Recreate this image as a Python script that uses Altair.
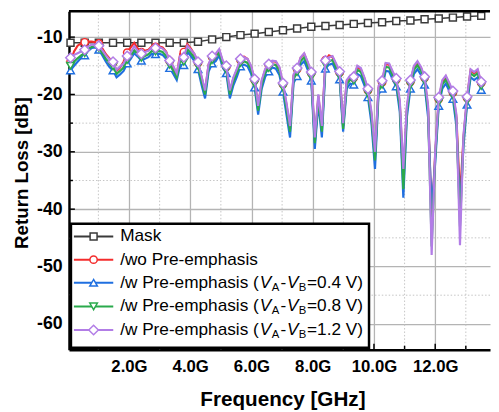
import altair as alt
import pandas as pd

# ---------------- data ----------------
FREQ_GHZ = [
    0.090, 0.206, 0.321, 0.437, 0.553, 0.668, 0.784, 0.899, 1.015, 1.131,
    1.246, 1.362, 1.478, 1.593, 1.709, 1.824, 1.940, 2.056, 2.171, 2.287,
    2.403, 2.518, 2.634, 2.749, 2.865, 2.981, 3.096, 3.212, 3.328, 3.443,
    3.559, 3.674, 3.790, 3.906, 4.021, 4.137, 4.253, 4.368, 4.484, 4.599,
    4.715, 4.831, 4.946, 5.062, 5.178, 5.293, 5.409, 5.524, 5.640, 5.756,
    5.871, 5.987, 6.103, 6.218, 6.334, 6.449, 6.565, 6.681, 6.796, 6.912,
    7.028, 7.143, 7.259, 7.374, 7.490, 7.606, 7.721, 7.837, 7.953, 8.068,
    8.184, 8.299, 8.415, 8.531, 8.646, 8.762, 8.878, 8.993, 9.109, 9.224,
    9.340, 9.456, 9.571, 9.687, 9.803, 9.918, 10.034, 10.149, 10.265, 10.381,
    10.496, 10.612, 10.728, 10.843, 10.959, 11.074, 11.190, 11.306, 11.421, 11.537,
    11.653, 11.768, 11.884, 11.999, 12.115, 12.231, 12.346, 12.462, 12.578, 12.693,
    12.809, 12.924, 13.040, 13.156, 13.271, 13.387, 13.503,
]

MASK_DB = [
    -11.0, -11.0, -11.0, -11.0, -11.0, -11.0, -11.0, -11.0, -11.0, -10.8,
    -10.4, -10.0, -9.65, -9.4, -9.1, -8.8, -8.5, -8.2, -8.05, -7.9,
    -7.7, -7.55, -7.4, -7.2, -7.1, -6.9, -6.75, -6.6, -6.4, -6.3,
]

WO_PRE = [
    -14.3, -12.5, -11.5, -11.1, -10.9, -10.8, -10.8, -10.9, -11.1, -12.0,
    -13.0, -13.7, -14.5, -15.9, -15.3, -14.3, -12.7, -11.8, -11.0, -12.0,
    -12.6, -12.4, -12.2, -11.6, -11.7, -11.6, -11.8, -12.5, -14.2, -15.2,
    -16.5, -12.9, -12.6, -11.2, -12.0, -13.0, -14.5, -17.0, -19.5, -14.8,
    -13.5, -13.1, -12.3, -14.3, -15.2, -19.5, -17.2, -15.7, -14.0, -13.4,
    -13.8, -15.2, -17.5, -22.2, -17.7, -15.7, -14.9, -14.2, -14.3, -15.4,
    -18.2, -21.8, -26.0, -16.7, -15.6, -13.6, -12.9, -14.5, -16.3, -28.0,
    -20.3, -26.0, -14.0, -13.2, -13.5, -14.8, -16.2, -25.5, -17.7, -16.9,
    -17.1, -15.2, -15.6, -17.2, -19.3, -23.5, -30.5, -18.8, -17.9, -14.7,
    -14.8, -16.2, -17.4, -21.5, -34.0, -22.5, -17.8, -15.2, -14.4, -15.4,
    -17.1, -22.5, -42.0, -30.5, -20.8, -17.8, -16.9, -18.2, -19.7, -24.0,
    -38.0, -27.5, -20.6, -15.8, -16.3, -15.8, -18.0,
]

PRE_04V = [
    -15.8, -15.0, -14.3, -13.6, -13.2, -12.4, -11.9, -11.8, -12.2, -13.2,
    -14.3, -15.2, -15.8, -17.0, -16.5, -15.9, -14.6, -13.8, -12.8, -13.4,
    -14.1, -13.8, -13.5, -12.9, -13.0, -12.9, -13.1, -13.8, -15.4, -16.4,
    -17.5, -14.8, -14.9, -12.6, -13.3, -14.2, -15.6, -18.3, -20.7, -16.0,
    -14.6, -14.2, -13.2, -15.3, -16.3, -20.7, -18.4, -16.9, -15.1, -14.8,
    -15.1, -16.4, -18.8, -23.5, -19.0, -16.9, -16.0, -15.3, -15.5, -16.6,
    -19.5, -23.5, -27.5, -18.0, -16.8, -14.8, -14.2, -15.7, -17.6, -29.5,
    -21.5, -27.5, -15.5, -14.8, -14.6, -15.9, -17.4, -26.5, -19.0, -18.1,
    -18.3, -16.4, -16.8, -18.4, -20.5, -25.0, -33.0, -20.0, -19.0, -15.9,
    -16.0, -17.4, -18.6, -23.0, -38.0, -24.0, -19.0, -16.4, -15.6, -16.6,
    -18.3, -24.0, -40.0, -32.0, -22.0, -19.0, -18.1, -19.4, -20.8, -25.5,
    -40.0, -29.0, -21.8, -17.0, -17.5, -17.0, -19.2,
]

PRE_08V = [
    -15.0, -14.3, -13.7, -13.2, -12.8, -12.1, -11.7, -11.6, -11.9, -12.8,
    -13.8, -14.6, -15.1, -16.4, -15.9, -15.3, -14.0, -13.3, -12.3, -13.0,
    -13.6, -13.3, -13.0, -12.4, -12.5, -12.4, -12.6, -13.3, -14.8, -15.8,
    -17.0, -14.1, -14.3, -12.1, -12.8, -13.6, -15.0, -17.6, -20.0, -15.4,
    -14.0, -13.6, -12.7, -14.7, -15.7, -20.0, -17.7, -16.2, -14.5, -14.2,
    -14.5, -15.7, -18.1, -22.8, -18.3, -16.2, -15.4, -14.7, -14.9, -15.9,
    -18.8, -22.5, -26.5, -17.3, -16.1, -14.2, -13.5, -15.0, -16.9, -28.5,
    -20.8, -26.5, -14.8, -14.2, -14.0, -15.3, -16.7, -26.0, -18.3, -17.4,
    -17.6, -15.7, -16.1, -17.7, -19.8, -24.0, -31.5, -19.3, -18.3, -15.2,
    -15.3, -16.7, -17.9, -22.0, -36.5, -23.0, -18.3, -15.7, -14.9, -15.9,
    -17.6, -23.0, -46.5, -31.0, -21.3, -18.3, -17.4, -18.7, -20.1, -24.5,
    -43.0, -28.0, -21.1, -16.3, -16.8, -16.3, -18.5,
]

PRE_12V = [
    -13.6, -13.1, -12.8, -12.5, -12.2, -11.6, -11.3, -11.3, -11.5, -12.3,
    -13.2, -13.9, -14.3, -15.7, -15.1, -14.6, -13.3, -12.7, -11.6, -12.4,
    -12.9, -12.6, -12.4, -11.8, -11.9, -11.7, -12.0, -12.6, -14.1, -15.0,
    -16.3, -13.3, -13.5, -11.5, -12.2, -12.9, -14.3, -16.8, -19.3, -14.7,
    -13.3, -12.9, -12.1, -14.1, -15.0, -19.3, -17.0, -15.5, -13.8, -13.5,
    -13.8, -15.0, -17.3, -22.0, -17.5, -15.5, -14.7, -14.1, -14.2, -15.2,
    -18.0, -21.5, -25.5, -16.5, -15.4, -13.5, -12.8, -14.3, -16.1, -27.5,
    -20.0, -25.5, -14.1, -13.5, -13.3, -14.6, -16.0, -25.0, -17.5, -16.7,
    -16.9, -15.0, -15.4, -17.0, -19.0, -23.0, -30.0, -18.5, -17.6, -14.5,
    -14.6, -16.0, -17.2, -21.0, -33.0, -22.0, -17.5, -15.0, -14.2, -15.2,
    -16.9, -22.0, -48.0, -30.0, -20.5, -17.5, -16.7, -18.0, -19.4, -23.5,
    -46.3, -27.0, -20.4, -15.6, -16.1, -15.6, -17.8,
]

X_TICKS = [2, 4, 6, 8, 10, 12]
X_MINOR = [1, 3, 5, 7, 9, 11, 13]
Y_TICKS = [-10, -20, -30, -40, -50, -60]
Y_MINOR = [-15, -25, -35, -45, -55]
MARK_EVERY = 4

SERIES = [
    ("/wo Pre-emphasis", WO_PRE, "#f42c2c", "circle", 55),
    ("/w 0.4 V", PRE_04V, "#1f6fe0", "triangle-up", 60),
    ("/w 0.8 V", PRE_08V, "#2aaa4c", "triangle-down", 60),
    ("/w 1.2 V", PRE_12V, "#b27de6", "diamond", 95),
]
MASK_COLOR = "#3a3a3a"

# ---------------- layout ----------------
W, H = 428, 344
FONT = "Liberation Sans"
x_scale = alt.Scale(domain=[0.04, 13.79], nice=False, zero=False)
y_scale = alt.Scale(domain=[-64.5, -5.5], nice=False, zero=False)
ONE = pd.DataFrame({"k": [0]})

mask_freq = FREQ_GHZ[::MARK_EVERY]
n_mask = min(len(mask_freq), len(MASK_DB))
mask_df = pd.DataFrame({"f": mask_freq[:n_mask], "v": MASK_DB[:n_mask]})

x_axis = alt.Axis(
    values=X_TICKS, grid=True, gridColor="#b4b4b4", gridWidth=1.3,
    domain=True, domainColor="black", domainWidth=2.5, ticks=False,
    labelExpr="format(datum.value, '.1f') + 'G'", labelFont=FONT,
    labelFontSize=17, labelFontWeight="bold", labelColor="black",
    labelPadding=9, labelFlush=False,
    title="Frequency [GHz]", titleFont=FONT, titleFontSize=21,
    titleFontWeight="bold", titleColor="black", titleX=217, titleY=51,
    titleAlign="center", titleBaseline="middle",
)
y_axis = alt.Axis(
    values=Y_TICKS, grid=True, gridColor="#b4b4b4", gridWidth=1.3,
    domain=True, domainColor="black", domainWidth=2.5, ticks=False,
    labelExpr="'' + datum.value", labelFont=FONT, labelFontSize=18,
    labelFontWeight="bold", labelColor="black", labelPadding=7,
    title="Return Loss [dB]", titleFont=FONT, titleFontSize=19,
    titleFontWeight="bold", titleColor="black", titleX=-48, titleY=164,
    titleAlign="center", titleBaseline="middle",
)

layers = []

# minor dotted grid
layers.append(
    alt.Chart(pd.DataFrame({"f": X_MINOR})).mark_rule(
        color="#c4c4c4", strokeWidth=1, strokeDash=[1.5, 2]
    ).encode(x=alt.X("f:Q", scale=x_scale, axis=x_axis))
)
layers.append(
    alt.Chart(pd.DataFrame({"v": Y_MINOR})).mark_rule(
        color="#c4c4c4", strokeWidth=1, strokeDash=[1.5, 2]
    ).encode(y=alt.Y("v:Q", scale=y_scale, axis=y_axis))
)

# inward ticks
layers.append(
    alt.Chart(pd.DataFrame({"f": X_TICKS})).mark_rule(color="black", strokeWidth=1.5)
    .encode(x=alt.X("f:Q", scale=x_scale), y=alt.value(H), y2=alt.value(H - 6))
)
layers.append(
    alt.Chart(pd.DataFrame({"f": X_MINOR})).mark_rule(color="black", strokeWidth=1.5)
    .encode(x=alt.X("f:Q", scale=x_scale), y=alt.value(H), y2=alt.value(H - 4))
)
layers.append(
    alt.Chart(pd.DataFrame({"v": Y_TICKS})).mark_rule(color="black", strokeWidth=1.5)
    .encode(y=alt.Y("v:Q", scale=y_scale), x=alt.value(0), x2=alt.value(6))
)
layers.append(
    alt.Chart(pd.DataFrame({"v": Y_MINOR})).mark_rule(color="black", strokeWidth=1.5)
    .encode(y=alt.Y("v:Q", scale=y_scale), x=alt.value(0), x2=alt.value(4))
)

# mask
layers.append(
    alt.Chart(mask_df).mark_line(color=MASK_COLOR, strokeWidth=1.5)
    .encode(x=alt.X("f:Q", scale=x_scale), y=alt.Y("v:Q", scale=y_scale))
)
layers.append(
    alt.Chart(mask_df).mark_point(
        shape="square", size=50, filled=True, fill="white",
        stroke=MASK_COLOR, strokeWidth=1.5, opacity=1
    ).encode(x=alt.X("f:Q", scale=x_scale), y=alt.Y("v:Q", scale=y_scale))
)

# measured curves
for name, vals, col, shp, sz in SERIES:
    n = min(len(FREQ_GHZ), len(vals))
    df = pd.DataFrame({"f": FREQ_GHZ[:n], "v": vals[:n]})
    mk = df.iloc[::MARK_EVERY]
    layers.append(
        alt.Chart(df).mark_line(color=col, strokeWidth=2.2)
        .encode(x=alt.X("f:Q", scale=x_scale), y=alt.Y("v:Q", scale=y_scale))
    )
    layers.append(
        alt.Chart(mk).mark_point(
            shape=shp, size=sz, filled=True, fill="white",
            stroke=col, strokeWidth=1.5, opacity=1
        ).encode(x=alt.X("f:Q", scale=x_scale), y=alt.Y("v:Q", scale=y_scale))
    )

# top frame line
layers.append(
    alt.Chart(ONE).mark_rule(color="black", strokeWidth=2.5)
    .encode(x=alt.value(0), x2=alt.value(W), y=alt.value(0))
)

# ---------------- custom legend ----------------
layers.append(
    alt.Chart(ONE).mark_rect(fill="white", stroke="black", strokeWidth=2.5)
    .encode(x=alt.value(2), x2=alt.value(305), y=alt.value(216), y2=alt.value(342))
)

LEG_FS = 17.5

def txt(s, x, y, size=LEG_FS, style="normal"):
    return alt.Chart(ONE).mark_text(
        text=s, align="left", baseline="middle", font=FONT,
        fontSize=size, fontStyle=style, color="black"
    ).encode(x=alt.value(x), y=alt.value(y))

def entry(y, col, shp, sz):
    return [
        alt.Chart(ONE).mark_rule(color=col, strokeWidth=2)
        .encode(x=alt.value(5), x2=alt.value(45), y=alt.value(y)),
        alt.Chart(ONE).mark_point(
            shape=shp, size=sz, filled=True, fill="white",
            stroke=col, strokeWidth=1.5, opacity=1
        ).encode(x=alt.value(25), y=alt.value(y)),
    ]

LEG_Y = [229, 252.5, 276, 300, 324]
layers += entry(LEG_Y[0], MASK_COLOR, "square", 50)
layers.append(txt("Mask", 52, LEG_Y[0]))
layers += entry(LEG_Y[1], SERIES[0][2], SERIES[0][3], SERIES[0][4])
layers.append(txt("/wo Pre-emphasis", 52, LEG_Y[1]))

for (name, vals, col, shp, sz), y, volt in zip(SERIES[1:], LEG_Y[2:], ["0.4", "0.8", "1.2"]):
    layers += entry(y, col, shp, sz)
    layers.append(txt("/w Pre-emphasis (", 52, y))
    layers.append(txt("V", 194, y, style="italic"))
    layers.append(txt("A", 206, y + 5, size=11.5))
    layers.append(txt("-", 215, y))
    layers.append(txt("V", 221.5, y, style="italic"))
    layers.append(txt("B", 233.5, y + 5, size=11.5))
    layers.append(txt("=" + volt + " V)", 242, y))

chart = alt.layer(*layers).properties(
    width=W, height=H,
    autosize=alt.AutoSizeParams(type="none"),
    padding={"left": 62, "top": 0, "right": 1, "bottom": 60},
).configure_view(stroke=None)

chart.save("out.html", embed_options={"renderer": "svg", "actions": False})
